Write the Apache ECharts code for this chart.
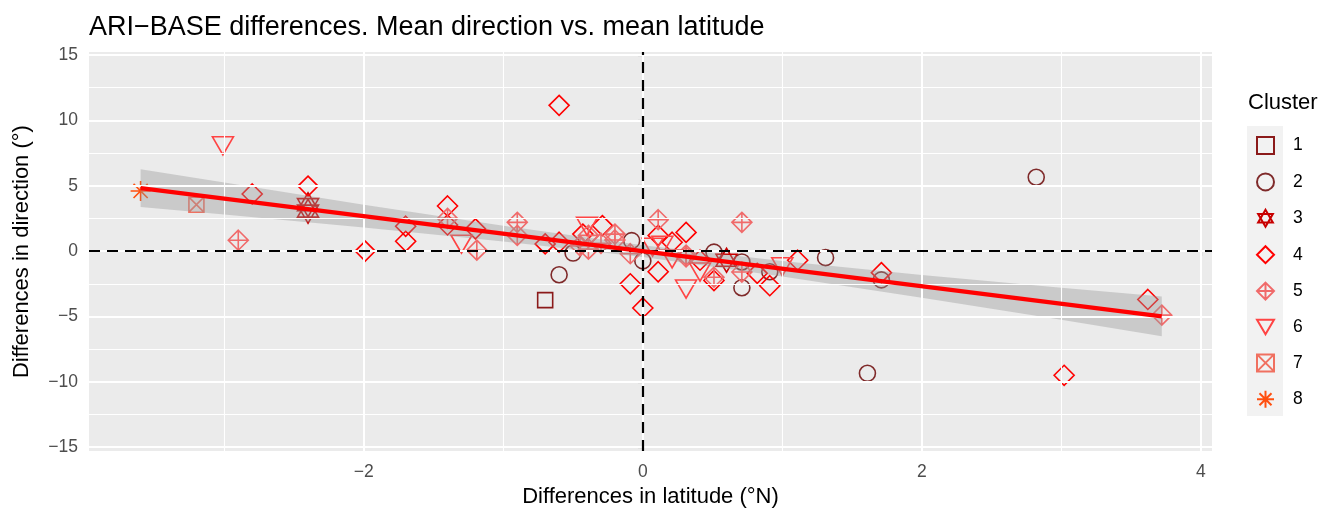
<!DOCTYPE html>
<html>
<head>
<meta charset="utf-8">
<script src="https://cdn.jsdelivr.net/npm/echarts@6/dist/echarts.min.js"></script>
<style>
html,body{margin:0;padding:0;background:#fff;}
#chart{width:1322px;height:513px;}
</style>
</head>
<body>
<div id="chart"></div>
<script>
// ---- data ----
const clusterNames = ['1','2','3','4','5','6','7','8'];
const c1Lat = [-0.70];
const c1Dir = [-3.75];
const c2Lat = [-0.50, -0.60, 0.00, -0.08, 0.51, 0.71, 0.71, 0.91, 1.31, 1.71, 1.61, 2.82];
const c2Dir = [-0.15, -1.81, -0.75, 0.80, -0.08, -0.83, -2.80, -1.58, -0.50, -2.20, -9.35, 5.65];
const c3Lat = [-2.40, -2.40, 0.60];
const c3Dir = [3.55, 3.05, -0.70];
const c4Lat = [-2.80, -2.40, -1.99, -1.70, -1.70, -1.40, -1.40, -1.20, -0.70, -0.60, -0.60, -0.43, -0.29, -0.09, 0.00, 0.11, 0.11, 0.21, 0.31, 0.41, 0.51, 0.82, 0.91, 1.11, 1.71, 3.02, 3.62];
const c4Dir = [4.37, 4.97, 0.00, 1.90, 0.75, 3.45, 2.00, 1.70, 0.55, 0.68, 11.15, 1.30, 1.95, -2.50, -4.35, 1.20, -1.58, 0.68, 1.43, -0.70, -2.25, -1.70, -2.65, -0.70, -1.65, -9.50, -3.70];
const c5Lat = [-2.90, -1.40, -1.19, -0.90, -0.90, -0.45, -0.39, -0.39, -0.30, -0.20, -0.20, -0.09, 0.11, 0.31, 0.31, 0.51, 0.71, 0.71, 3.72];
const c5Dir = [0.83, 2.50, 0.07, 2.20, 1.20, 0.40, 1.20, 0.15, 0.60, 1.30, 0.85, -0.20, 2.40, -0.30, -0.45, -2.00, 2.20, -1.60, -4.90];
const c6Lat = [-3.01, -1.30, -0.40, 0.07, 0.14, 0.21, 0.31, 0.41, 1.00];
const c6Dir = [8.06, 0.53, 1.90, 0.30, 0.45, -0.60, -2.90, -1.60, -1.20];
const c7Lat = [-3.20];
const c7Dir = [3.55];
const c8Lat = [-3.60];
const c8Dir = [4.60];

// linear fit and its confidence band
const fitLat = [-3.60, 3.72];
const fitDir = [4.82, -5.00];
const bandLat = [-3.60, -3.00, -2.00, -1.00, 0.00, 1.00, 2.00, 3.00, 3.72];
const bandHi  = [6.27, 5.25, 3.54, 1.93, 0.44, -0.75, -1.82, -2.80, -3.48];
const bandLo  = [3.37, 2.79, 1.80, 0.73, -0.46, -1.95, -3.56, -5.26, -6.52];

// axis ticks / grid
const xTicks = [-2, 0, 2, 4];
const xMinor = [-3, -1, 1, 3];
const yTicks = [-15, -10, -5, 0, 5, 10, 15];
const yMinor = [-12.5, -7.5, -2.5, 2.5, 7.5, 12.5];

// ---- styling ----
const FONT = '"Liberation Sans", Arial, Helvetica, sans-serif';
const colors = ['#8B1A1A', '#7F2A2A', '#C80000', '#FF0000', '#F06A6A', '#FF4444', '#F07060', '#FF5010'];
const symbols = [
  'path://M-1,-1L1,-1L1,1L-1,1Z',
  'circle',
  'path://M0,0L10,17.32L-10,17.32ZM0,23.09L10,5.77L-10,5.77Z',
  'path://M0,-1L1,0L0,1L-1,0Z',
  'path://M0,-1L1,0L0,1L-1,0ZM0,-1L0,1M-1,0L1,0',
  'path://M-1,0L1,0L0,1.732Z',
  'path://M-1,-1L1,-1L1,1L-1,1ZM-1,-1L1,1M1,-1L-1,1',
  'path://M-1,0L1,0M0,-1L0,1M-0.707,-0.707L0.707,0.707M0.707,-0.707L-0.707,0.707'
];
const sizes = [15, 16, [21, 24], 20, 20, [21, 18], 15, 20];
const lats = [c1Lat, c2Lat, c3Lat, c4Lat, c5Lat, c6Lat, c7Lat, c8Lat];
const dirs = [c1Dir, c2Dir, c3Dir, c4Dir, c5Dir, c6Dir, c7Dir, c8Dir];

const minusFmt = v => String(v).replace('-', '\u2212');

const series = [];
// grid lines
series.push({
  type: 'scatter', name: 'grid', data: [], z: 1, silent: true,
  markLine: {
    silent: true, symbol: 'none', animation: false, label: {show: false},
    data: [
      ...xMinor.map(v => ({xAxis: v, lineStyle: {color: '#fff', width: 1.1, type: 'solid'}})),
      ...yMinor.map(v => ({yAxis: v, lineStyle: {color: '#fff', width: 1.1, type: 'solid'}})),
      ...xTicks.map(v => ({xAxis: v, lineStyle: {color: '#fff', width: 2, type: 'solid'}})),
      ...yTicks.map(v => ({yAxis: v, lineStyle: {color: '#fff', width: 2, type: 'solid'}}))
    ]
  }
});
// zero reference lines
series.push({
  type: 'scatter', name: 'zero', data: [], z: 2, silent: true,
  markLine: {
    silent: true, symbol: 'none', animation: false, label: {show: false},
    lineStyle: {color: '#000', width: 2.2, type: [11, 7]},
    data: [{xAxis: 0}, {yAxis: 0}]
  }
});
// points
for (let i = 0; i < 8; i++) {
  series.push({
    type: 'scatter', name: clusterNames[i], z: 3,
    symbol: symbols[i], symbolSize: sizes[i],
    itemStyle: {color: 'rgba(0,0,0,0)', borderColor: colors[i], borderWidth: 1.6, opacity: 1},
    data: lats[i].map((x, j) => [x, dirs[i][j]])
  });
}
// confidence band
series.push({
  type: 'custom', name: 'band', z: 4, silent: true,
  data: [[bandLat[0], bandHi[0]]],
  renderItem: function (params, api) {
    const pts = [];
    for (let k = 0; k < bandLat.length; k++) pts.push(api.coord([bandLat[k], bandHi[k]]));
    for (let k = bandLat.length - 1; k >= 0; k--) pts.push(api.coord([bandLat[k], bandLo[k]]));
    return {type: 'polygon', shape: {points: pts}, style: {fill: 'rgba(153,153,153,0.4)', stroke: 'none'}};
  }
});
// fitted line
series.push({
  type: 'line', name: 'fit', z: 5, silent: true, showSymbol: false, symbol: 'none',
  lineStyle: {color: '#FF0000', width: 4.2},
  data: fitLat.map((x, j) => [x, fitDir[j]])
});

const option = {
  animation: false,
  backgroundColor: '#fff',
  textStyle: {fontFamily: FONT},
  title: {
    text: 'ARI\u2212BASE differences. Mean direction vs. mean latitude',
    left: 89, top: 14, padding: 0,
    textStyle: {fontFamily: FONT, fontSize: 27, fontWeight: 'normal', color: '#000'}
  },
  grid: {left: 89, right: 110, top: 52, bottom: 56, show: true, backgroundColor: '#EBEBEB', borderWidth: 0, containLabel: false},
  xAxis: {
    type: 'value', min: -3.97, max: 4.08,
    name: 'Differences in latitude (\u00B0N)', nameLocation: 'middle', nameGap: 31,
    nameTextStyle: {fontFamily: FONT, fontSize: 22, color: '#000'},
    axisLine: {show: false},
    axisTick: {show: true, length: 5, lineStyle: {color: '#333', width: 1.1}, customValues: xTicks},
    axisLabel: {customValues: xTicks, margin: 12, fontFamily: FONT, fontSize: 17.5, color: '#4D4D4D', formatter: minusFmt},
    splitLine: {show: false}
  },
  yAxis: {
    type: 'value', min: -15.3, max: 15.23,
    name: 'Differences in direction (\u00B0)', nameLocation: 'middle', nameGap: 56,
    nameTextStyle: {fontFamily: FONT, fontSize: 22, color: '#000'},
    axisLine: {show: false},
    axisTick: {show: true, length: 5, lineStyle: {color: '#333', width: 1.1}, customValues: yTicks},
    axisLabel: {customValues: yTicks, margin: 11, fontFamily: FONT, fontSize: 17.5, color: '#4D4D4D', formatter: minusFmt},
    splitLine: {show: false}
  },
  legend: {
    data: clusterNames,
    orient: 'vertical', left: 1251, top: 131,
    itemWidth: 17, itemHeight: 17, itemGap: 17.4,
    selectedMode: false,
    textStyle: {fontFamily: FONT, fontSize: 17.5, color: '#000', padding: [0, 0, 0, 14]}
  },
  graphic: [
    {type: 'rect', left: 1247, top: 126, shape: {width: 36, height: 290}, style: {fill: '#F2F2F2'}, z: -1, silent: true},
    {type: 'text', left: 1248, top: 92, style: {text: 'Cluster', fontFamily: FONT, fontSize: 22, fill: '#000'}, silent: true}
  ],
  series: series
};

const chart = echarts.init(document.getElementById('chart'), null, {renderer: 'canvas'});
chart.setOption(option);
</script>
</body>
</html>
